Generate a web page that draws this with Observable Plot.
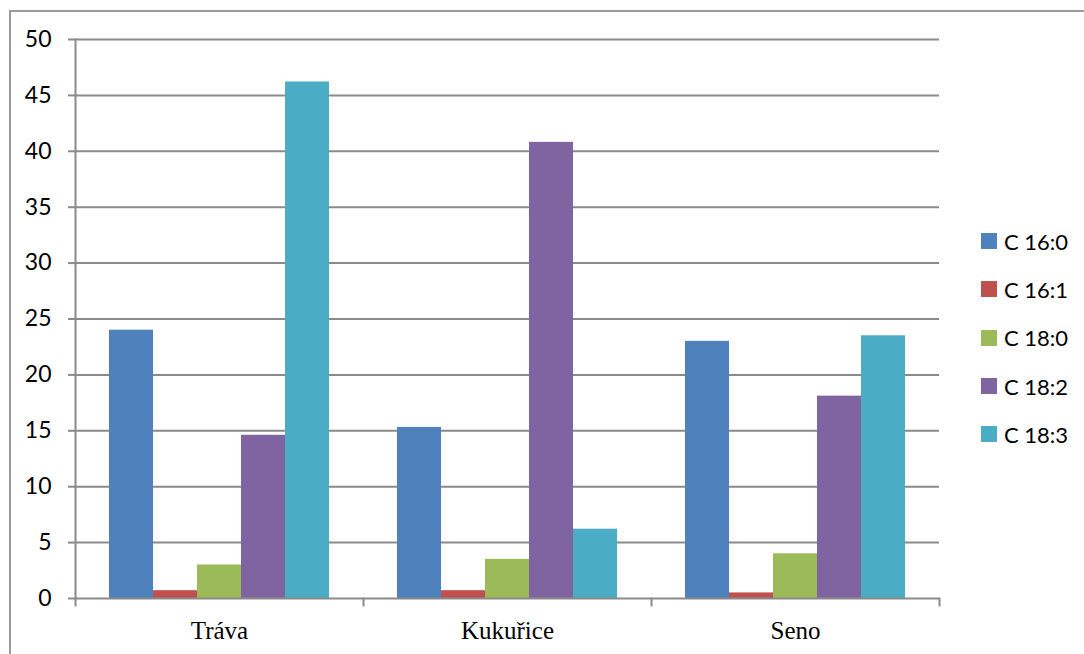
<!DOCTYPE html>
<html>
<head>
<meta charset="utf-8">
<script src="https://cdn.jsdelivr.net/npm/d3@7"></script>
<script src="https://cdn.jsdelivr.net/npm/@observablehq/plot@0.6"></script>
<style>
  html, body { margin: 0; padding: 0; background: #fff; overflow: hidden; }
  #wrap { position: relative; width: 1084px; height: 654px; }
  #border { position: absolute; left: 9px; top: 10px; width: 2000px; height: 2000px;
            border-left: 2px solid #9a9a9a; border-top: 2px solid #9a9a9a; }
  #chart { position: absolute; left: 0; top: 0; }
  #legend { position: absolute; left: 981px; top: 217px; font-family: Lato, "Open Sans", sans-serif; font-size: 22px; color: #000; }
  .item { display: flex; align-items: center; height: 48.3px; }
  .sw { width: 16px; height: 16px; margin-right: 7px; }
</style>
</head>
<body>
<div id="wrap">
  <div id="border"></div>
  <div id="chart"></div>
  <div id="legend"></div>
</div>
<script>
const categories = ["Tráva", "Kukuřice", "Seno"];
const series = ["C 16:0", "C 16:1", "C 18:0", "C 18:2", "C 18:3"];
const travaValues = [24.0, 0.7, 3.0, 14.6, 46.2];
const kukuriceValues = [15.3, 0.7, 3.5, 40.8, 6.2];
const senoValues = [23.0, 0.5, 4.0, 18.1, 23.5];
const colors = ["#4F81BD", "#C0504D", "#9BBB59", "#8064A2", "#4BACC6"];
const yTicks = [0, 5, 10, 15, 20, 25, 30, 35, 40, 45, 50];

const valuesByCategory = [travaValues, kukuriceValues, senoValues];
const data = [];
categories.forEach((c, i) => series.forEach((s, j) => data.push({cat: c, ser: s, value: valuesByCategory[i][j]})));

const grid = "#8a8a8a";
const chart = Plot.plot({
  width: 1084,
  height: 654,
  marginLeft: 74,
  marginRight: 144,
  marginTop: 39,
  marginBottom: 56,
  style: {background: "transparent", overflow: "visible"},
  fx: {domain: categories, padding: 0, axis: null, label: null},
  x: {domain: series, paddingInner: 0, paddingOuter: 0.75, axis: null},
  y: {domain: [0, 50], axis: null, label: null},
  color: {domain: series, range: colors},
  marks: [
    Plot.ruleY(yTicks.filter(t => t > 0), {stroke: grid, strokeWidth: 2}),
    Plot.barY(data, {fx: "cat", x: "ser", y: "value", fill: "ser"}),
    Plot.ruleY([0], {stroke: grid, strokeWidth: 2}),
    Plot.frame({anchor: "left", facetAnchor: "left", stroke: grid, strokeWidth: 2}),
    Plot.frame({anchor: "left", stroke: grid, strokeWidth: 2, insetTop: 559, insetBottom: -7}),
    Plot.frame({anchor: "right", facetAnchor: "right", stroke: grid, strokeWidth: 2, insetTop: 559, insetBottom: -7}),
    Plot.axisY(yTicks, {anchor: "left", facetAnchor: "left", tickSize: 7, tickPadding: 17, stroke: grid, strokeWidth: 2,
      fontSize: 23, fontFamily: "Lato, 'Open Sans', sans-serif", label: null}),
    Plot.axisFx({anchor: "bottom", tickSize: 0, tickPadding: 23, fontSize: 25,
      fontFamily: "'Liberation Serif', 'Times New Roman', serif", label: null})
  ]
});
chart.style.fontSize = "22px";
chart.querySelectorAll("text").forEach(t => t.setAttribute("fill", "#000"));
document.getElementById("chart").appendChild(chart);

const legend = document.getElementById("legend");
series.forEach((s, i) => {
  const item = document.createElement("div");
  item.className = "item";
  const sw = document.createElement("div");
  sw.className = "sw";
  sw.style.background = colors[i];
  const lab = document.createElement("span");
  lab.textContent = s;
  item.appendChild(sw);
  item.appendChild(lab);
  legend.appendChild(item);
});
</script>
</body>
</html>
